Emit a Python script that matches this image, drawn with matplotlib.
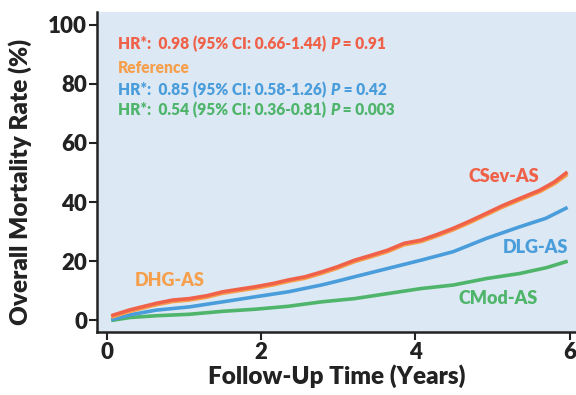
import matplotlib
matplotlib.use("Agg")
import matplotlib.pyplot as plt

# Data
t_csev = [0.08, 0.3, 0.64, 0.85, 1.07, 1.3, 1.50, 1.72, 1.92, 2.15, 2.35, 2.57, 2.78, 2.99, 3.21, 3.43, 3.64, 3.85, 4.07, 4.28, 4.49, 4.70, 4.92, 5.13, 5.35, 5.61, 5.80, 5.95]
y_csev = [1.7, 3.5, 5.7, 6.8, 7.3, 8.3, 9.6, 10.5, 11.3, 12.4, 13.6, 14.7, 16.3, 18.1, 20.3, 22.0, 23.7, 26.0, 27.1, 29.0, 31.1, 33.5, 36.2, 38.8, 41.2, 44.0, 46.8, 49.8]
t_dhg = t_csev
y_dhg = [1.2, 3.0, 5.2, 6.3, 6.8, 7.8, 9.1, 10.0, 10.8, 11.9, 13.1, 14.2, 15.8, 17.6, 19.8, 21.5, 23.2, 25.5, 26.6, 28.5, 30.6, 33.0, 35.7, 38.3, 40.7, 43.5, 46.2, 49.0]
t_dlg = [0.08, 0.3, 0.64, 1.07, 1.5, 1.92, 2.35, 2.78, 3.0, 3.21, 3.64, 4.07, 4.49, 4.92, 5.35, 5.69, 5.95]
y_dlg = [0.3, 1.8, 3.4, 4.5, 6.2, 7.9, 9.6, 11.9, 13.3, 14.7, 17.5, 20.3, 23.2, 27.7, 31.6, 34.5, 37.9]
t_cmod = [0.08, 0.3, 0.64, 1.07, 1.5, 1.92, 2.35, 2.78, 3.21, 3.64, 4.07, 4.49, 4.92, 5.35, 5.7, 5.95]
y_cmod = [0.0, 0.9, 1.5, 2.0, 3.0, 3.7, 4.7, 6.2, 7.3, 9.0, 10.7, 11.9, 14.1, 15.8, 17.8, 19.8]

x_ticks = [0, 2, 4, 6]
y_ticks = [0, 20, 40, 60, 80, 100]

hr_prefix = ["HR*:  0.98 (95% CI: 0.66-1.44) ", "HR*:  0.85 (95% CI: 0.58-1.26) ", "HR*:  0.54 (95% CI: 0.36-0.81) "]
hr_pval = [" = 0.91", " = 0.42", " = 0.003"]

c_red = "#ef6148"
c_orange = "#f6a04e"
c_blue = "#4a9ddb"
c_green = "#4fb56b"

plt.rcParams['font.family'] = ['Lato', 'DejaVu Sans']

fig = plt.figure(figsize=(5.76, 3.95), dpi=100)
ax = fig.add_axes([0.168, 0.159, 0.832, 0.811])
ax.set_facecolor("#dce8f4")

lw = 2.6
ax.plot(t_cmod, y_cmod, color=c_green, lw=lw)
ax.plot(t_dlg, y_dlg, color=c_blue, lw=lw)
ax.plot(t_dhg, y_dhg, color=c_orange, lw=lw)
ax.plot(t_csev, y_csev, color=c_red, lw=lw)

ax.set_xlim(-0.13, 6.08)
ax.set_ylim(-4.07, 104.4)
ax.set_xticks(x_ticks)
ax.set_yticks(y_ticks)
for s in ["top", "right"]:
    ax.spines[s].set_visible(False)
for s in ["left", "bottom"]:
    ax.spines[s].set_linewidth(1.8)
    ax.spines[s].set_color("#222222")
ax.tick_params(axis="both", direction="out", length=6, width=1.5, labelsize=16, colors="#222222", pad=1)
for lab in ax.get_xticklabels() + ax.get_yticklabels():
    lab.set_fontweight("heavy")

ax.set_xlabel("Follow-Up Time (Years)", fontsize=17.5, fontweight="heavy", color="#222222", labelpad=1)
ax.set_ylabel("Overall Mortality Rate (%)", fontsize=17.5, fontweight="heavy", color="#222222")
ax.yaxis.set_label_coords(-0.135, 0.47)

fs = 11.2
x0 = 0.045
ys = [0.884, 0.810, 0.740, 0.678]
colors = [c_red, c_blue, c_green]
hr_rows = [ys[0], ys[2], ys[3]]
for pre, pv, col, yy in zip(hr_prefix, hr_pval, colors, hr_rows):
    t1 = ax.text(x0, yy, pre, transform=ax.transAxes, color=col, fontsize=fs,
                 fontweight="heavy", va="baseline")
    t2 = ax.annotate("P", xy=(1, 0), xycoords=t1, va="bottom", ha="left", color=col,
                     fontsize=fs, fontweight="heavy", fontstyle="italic")
    ax.annotate(pv, xy=(1, 0), xycoords=t2, va="bottom", ha="left", color=col,
                fontsize=fs, fontweight="heavy")
ax.text(x0, ys[1], "Reference", transform=ax.transAxes,
        color=c_orange, fontsize=fs, fontweight="heavy", va="baseline")

lfs = 13
ax.text(5.15, 48.5, "CSev-AS", color=c_red, fontsize=lfs, fontweight="heavy", ha="center", va="center")
ax.text(5.55, 24.5, "DLG-AS", color=c_blue, fontsize=lfs, fontweight="heavy", ha="center", va="center")
ax.text(0.81, 13.6, "DHG-AS", color=c_orange, fontsize=lfs, fontweight="heavy", ha="center", va="center")
ax.text(5.07, 7.5, "CMod-AS", color=c_green, fontsize=lfs, fontweight="heavy", ha="center", va="center")

fig.savefig("out.png", dpi=100)
